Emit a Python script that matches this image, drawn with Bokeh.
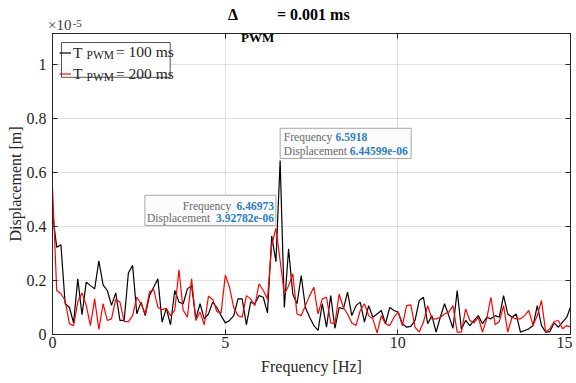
import numpy as np
from bokeh.plotting import figure
from bokeh.layouts import column
from bokeh.models import Label, LinearAxis, Range1d, FixedTicker, Legend, LegendItem, Div
from bokeh.embed import file_html
from bokeh.resources import INLINE

# ---------------- data (displacement in units of 1e-5 m) ----------------
df = 1 / 8.192  # frequency resolution [Hz]
n_points = 124
frequency = [i * df for i in range(n_points)]

disp_100ms = [
    0.45, 0.323, 0.332, 0.114, 0.101, 0.043, 0.206, 0.073, 0.194, 0.181,
    0.169, 0.273, 0.184, 0.163, 0.108, 0.154, 0.052, 0.052, 0.228, 0.256,
    0.077, 0.12, 0.07, 0.144, 0.175, 0.206, 0.046, 0.097, 0.036, 0.163,
    0.12, 0.114, 0.169, 0.181, 0.058, 0.114, 0.058, 0.076, 0.12, 0.1,
    0.07, 0.043, 0.052, 0.07, 0.132, 0.132, 0.036, 0.12, 0.114, 0.144,
    0.138, 0.08, 0.365, 0.27, 0.644599, 0.10, 0.317, 0.15, 0.114, 0.218,
    0.1, 0.064, 0.033, 0.015, 0.114, 0.027, 0.144, 0.023, 0.1, 0.095,
    0.157, 0.07, 0.107, 0.12, 0.046, 0.107, 0.064, 0.076, 0.089, 0.04,
    0.1, 0.089, 0.083, 0.04, 0.027, 0.03, 0.052, 0.126, 0.138, 0.04,
    0.07, 0.009, 0.064, 0.114, 0.07, 0.023, 0.163, 0.02, 0.052, 0.033,
    0.052, 0.07, 0.04, 0.064, 0.058, 0.07, 0.064, 0.144, 0.076, 0.064,
    0.076, 0.009, 0.015, 0.021, 0.033, 0.107, 0.033, 0.009, 0.011, 0.043,
    0.027, 0.046, 0.064, 0.107,
]

disp_200ms = [
    0.545, 0.163, 0.151, 0.126, 0.04, 0.033, 0.12, 0.154, 0.108, 0.033,
    0.132, 0.019, 0.114, 0.052, 0.058, 0.13, 0.12, 0.048, 0.048, 0.07,
    0.138, 0.114, 0.077, 0.157, 0.167, 0.101, 0.092, 0.097, 0.07, 0.089,
    0.24, 0.09, 0.064, 0.206, 0.052, 0.083, 0.036, 0.142, 0.13, 0.085,
    0.08, 0.22, 0.175, 0.1, 0.07, 0.064, 0.144, 0.132, 0.107, 0.188,
    0.163, 0.132, 0.33, 0.392782, 0.274, 0.15, 0.18, 0.225, 0.076, 0.07,
    0.107, 0.144, 0.175, 0.076, 0.132, 0.138, 0.043, 0.04, 0.15, 0.1,
    0.076, 0.043, 0.033, 0.089, 0.114, 0.07, 0.058, 0.006, 0.07, 0.04,
    0.033, 0.064, 0.083, 0.033, 0.107, 0.11, 0.027, 0.009, 0.046, 0.107,
    0.058, 0.058, 0.064, 0.076, 0.083, 0.107, 0.009, 0.009, 0.095, 0.052,
    0.043, 0.064, 0.009, 0.058, 0.138, 0.036, 0.048, 0.107, 0.009, 0.064,
    0.058, 0.058, 0.07, 0.089, 0.033, 0.07, 0.126, 0.009, 0.021, 0.048,
    0.052, 0.021, 0.033, 0.027,
]

x_ticks = [0, 5, 10, 15]
y_ticks = [0, 0.2, 0.4, 0.6, 0.8, 1]
y_tick_labels = ["0", "0.2", "0.4", "0.6", "0.8", "1"]
x_lim = (0, 15)
y_lim = (0, 1.115)

tip1_index = 54   # datatip on T_PWM = 100 ms
tip2_index = 53   # datatip on T_PWM = 200 ms

# ---------------- styling ----------------
SERIF = "Liberation Serif"
AX = "#262626"
NBSP = "\u00a0"
HEAD_H = 30
FRAME_H = 301

p = figure(width=572, height=380 - HEAD_H, output_backend="svg", toolbar_location=None,
           x_range=Range1d(*x_lim), y_range=Range1d(*y_lim),
           min_border_left=52, min_border_right=2, min_border_top=33 - HEAD_H,
           min_border_bottom=46,
           background_fill_color="white", border_fill_color="white", border_fill_alpha=0)
p.title.visible = False

p.outline_line_color = AX
p.outline_line_width = 1

for ax in (p.xaxis[0], p.yaxis[0]):
    ax.major_tick_in = 5
    ax.major_tick_out = 0
    ax.minor_tick_line_color = None
    ax.axis_line_color = AX
    ax.major_tick_line_color = AX
    ax.major_label_text_font = SERIF
    ax.major_label_text_font_size = "16px"
    ax.major_label_text_color = AX
    ax.axis_label_text_font = SERIF
    ax.axis_label_text_font_size = "16px"
    ax.axis_label_text_font_style = "normal"
    ax.axis_label_text_color = AX

p.xaxis.ticker = FixedTicker(ticks=x_ticks)
p.yaxis.ticker = FixedTicker(ticks=y_ticks)
p.yaxis.major_label_overrides = {t: s for t, s in zip(y_ticks, y_tick_labels)}
p.xaxis.axis_label = "Frequency [Hz]"
p.yaxis.axis_label = "Displacement [m]"
p.xaxis.major_label_standoff = 2
p.xaxis.axis_label_standoff = 7
p.yaxis.major_label_standoff = 6
p.yaxis.axis_label_standoff = 0

for loc, tick in (("right", y_ticks), ("above", x_ticks)):
    a = LinearAxis(ticker=FixedTicker(ticks=tick), major_tick_in=5, major_tick_out=0,
                   minor_tick_line_color=None, axis_line_color=AX, major_tick_line_color=AX,
                   major_label_text_font_size="0px", major_label_standoff=0,
                   major_label_text_alpha=0)
    p.add_layout(a, loc)

p.xgrid.ticker = FixedTicker(ticks=x_ticks)
p.ygrid.ticker = FixedTicker(ticks=y_ticks)
p.grid.grid_line_color = AX
p.grid.grid_line_alpha = 0.15

r100 = p.line(frequency, disp_100ms, line_color="black", line_width=1.2)
r200 = p.line(frequency, disp_200ms, line_color="#ff0000", line_width=1.2)

x0, x1 = x_lim
y1 = y_lim[1]
xc = (x0 + x1) / 2


def box(x, y, n_sp, size, lines, dx, dy, align, baseline, fill="white", border=AX, pad=2):
    """Blank label used only as a framed background panel."""
    p.add_layout(Label(x=x, y=y, text="\n".join([NBSP * n_sp] * lines),
                       x_offset=dx, y_offset=dy, text_font=SERIF, text_font_size=size,
                       text_align=align, text_baseline=baseline, text_color=fill,
                       background_fill_color=fill, background_fill_alpha=1,
                       border_line_color=border, border_line_width=1, padding=pad))


def lab(x, y, text, dx, dy, size, color=AX, bold=False, align="left", font=SERIF):
    p.add_layout(Label(x=x, y=y, text=text, x_offset=dx, y_offset=dy, text_font=font,
                       text_font_size=size, text_color=color, text_align=align,
                       text_baseline="alphabetic", level="overlay",
                       text_font_style="bold" if bold else "normal"))


# ---------------- legend ----------------
LEG_PAD, LEG_ROW = 3, 21
LEG_H_RENDERED = 40
box(x0, y1, 33, "12.7px", 2, 9, -9, "left", "top", border="#555555")
legend = Legend(items=[LegendItem(label="T", renderers=[r100]),
                       LegendItem(label="T", renderers=[r200])],
                location=(7, FRAME_H - 11 - LEG_H_RENDERED), padding=LEG_PAD, spacing=0,
                label_height=LEG_ROW, glyph_height=LEG_ROW, glyph_width=12, label_standoff=2,
                label_width=94, label_text_font=SERIF, label_text_font_size="15.5px",
                label_text_color=AX, border_line_color=None,
                background_fill_alpha=0)
p.add_layout(legend)

for row, txt in ((0, "= 100 ms"), (1, "= 200 ms")):
    base = -18.3 - 22 * row
    lab(x0, y1, "PWM", 34, base - 3.5, "11.5px")
    lab(x0, y1, txt, 63.5, base, "15.5px")

# ---------------- title subscript (inside the axes box, as in the original) ----------------
lab(xc, y1, "PWM", -70.5, -4, "13px", color="black", bold=True)

# ---------------- data tips ----------------
KEY = "#6a6a6a"
VAL = "#2a7dc8"
TIPSIZE = "11.5px"

f1, d1 = frequency[tip1_index], disp_100ms[tip1_index]
f1s, d1s = f"{f1:g}", f"{d1 * 1e-5:g}"
f2, d2 = frequency[tip2_index], disp_200ms[tip2_index]
f2s, d2s = f"{f2:g}", f"{d2 * 1e-5:g}"

# box 1 (anchored bottom-left at data point)
box(f1, d1, 50, "10px", 2, 0, 2, "left", "bottom", fill="#fbfbfb", border="#a8a8a8", pad=3)
lab(f1, d1, "Frequency", 3.7, 23, TIPSIZE, color=KEY)
lab(f1, d1, f1s, 55.4, 23, TIPSIZE, color=VAL, bold=True)
lab(f1, d1, "Displacement", 3.7, 9.5, TIPSIZE, color=KEY)
lab(f1, d1, d1s, 69.7, 9.5, TIPSIZE, color=VAL, bold=True)

# box 2 (anchored bottom-right near data point)
box(f2, d2, 50, "10px", 2, 0, 3, "right", "bottom", fill="#fbfbfb", border="#a8a8a8", pad=3)
lab(f2, d2, "Frequency", -44.7, 22.5, TIPSIZE, color=KEY, align="right")
lab(f2, d2, f2s, -2, 22.5, TIPSIZE, color=VAL, bold=True, align="right")
lab(f2, d2, "Displacement", -65.7, 10, TIPSIZE, color=KEY, align="right")
lab(f2, d2, d2s, -2, 10, TIPSIZE, color=VAL, bold=True, align="right")

# ---------------- header: exponent and title (outside the axes box) ----------------
span = ("<span style=\"position:absolute;left:{l}px;top:{t}px;font-size:{s}px;"
        "font-weight:{w};color:{c};white-space:nowrap;\">{txt}</span>")
head_html = (
    f"<div style=\"position:relative;width:572px;height:{HEAD_H}px;"
    f"font-family:'{SERIF}';line-height:1;\">"
    + span.format(l=48, t=18, s=15, w="normal", c="#404040", txt="\u00d710")
    + span.format(l=72.7, t=17.5, s=11, w="normal", c="#404040", txt="-5")
    + span.format(l=228, t=6.6, s=16, w="bold", c="black", txt="\u0394")
    + span.format(l=277, t=6.6, s=16, w="bold", c="black", txt="= 0.001 ms")
    + "</div>"
)
header = Div(text=head_html, width=572, height=HEAD_H, margin=0,
             styles={"overflow": "visible"})

layout = column(header, p, spacing=0)
open("out.html", "w").write(file_html(layout, INLINE))
